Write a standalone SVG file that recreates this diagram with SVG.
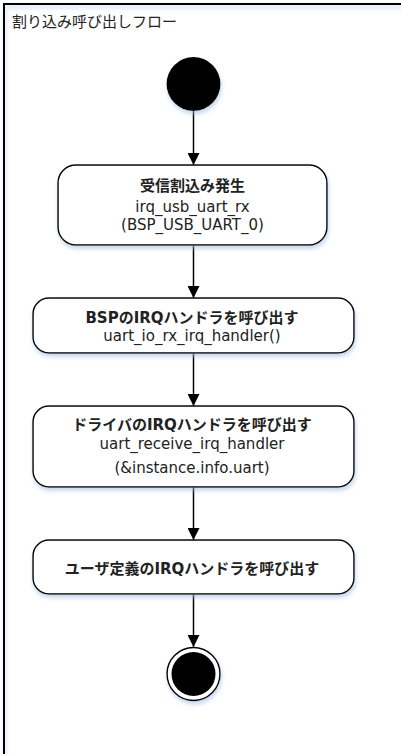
<svg xmlns="http://www.w3.org/2000/svg" width="401" height="754" viewBox="0 0 401 754">
<style>
.box{fill:#fff;stroke:#000;stroke-width:1.5}
.t{font-family:"DejaVu Sans","Noto Sans CJK JP",sans-serif;font-size:15px;fill:#222;text-anchor:middle}
.b{font-weight:bold}
.c{stroke:#000;stroke-width:1.5;fill:none;marker-end:url(#ah)}
</style>
<defs>
<filter id="sh" x="-20%" y="-20%" width="140%" height="150%">
<feDropShadow dx="1" dy="3" stdDeviation="2" flood-color="#9fbbdc" flood-opacity="0.6"/>
</filter>
<marker id="ah" viewBox="0 0 12 12" refX="12" refY="6" markerWidth="12" markerHeight="12" markerUnits="userSpaceOnUse" orient="auto">
<path d="M0,0 L12,6 L0,12 Z" fill="#000"/>
</marker>
</defs>
<rect width="401" height="754" fill="#fff"/>
<g id="frame">
<rect x="4" y="4" width="500" height="800" fill="none" stroke="#000" stroke-width="2" filter="url(#sh)"/>
<text x="12" y="27" font-family="'Noto Sans CJK JP',sans-serif" font-size="15" fill="#222">割り込み呼び出しフロー</text>
</g>
<g id="connectors">
<line class="c" x1="193.5" y1="111" x2="193.5" y2="165"/>
<line class="c" x1="193.5" y1="245" x2="193.5" y2="298"/>
<line class="c" x1="193.5" y1="353" x2="193.5" y2="406"/>
<line class="c" x1="193.5" y1="487" x2="193.5" y2="540"/>
<line class="c" x1="193.5" y1="594" x2="193.5" y2="647"/>
</g>
<g id="start">
<circle cx="193.5" cy="84" r="27" fill="#000" filter="url(#sh)"/>
</g>
<g id="n1">
<rect class="box" x="58" y="165" width="269" height="80" rx="18" filter="url(#sh)"/>
<text class="t b" x="192.5" y="191">受信割込み発生</text>
<text class="t" x="192.5" y="212">irq_usb_uart_rx</text>
<text class="t" x="192.5" y="230">(BSP_USB_UART_0)</text>
</g>
<g id="n2">
<rect class="box" x="33" y="298" width="321" height="55" rx="16" filter="url(#sh)"/>
<text class="t b" x="192" y="323">BSPのIRQハンドラを呼び出す</text>
<text class="t" x="192" y="341">uart_io_rx_irq_handler()</text>
</g>
<g id="n3">
<rect class="box" x="33" y="406" width="321" height="81" rx="16" filter="url(#sh)"/>
<text class="t b" x="192" y="430">ドライバのIRQハンドラを呼び出す</text>
<text class="t" x="192" y="449">uart_receive_irq_handler</text>
<text class="t" x="192" y="473">(&amp;instance.info.uart)</text>
</g>
<g id="n4">
<rect class="box" x="33" y="540" width="321" height="54" rx="16" filter="url(#sh)"/>
<text class="t b" x="192" y="574">ユーザ定義のIRQハンドラを呼び出す</text>
</g>
<g id="end">
<circle cx="193.5" cy="674" r="26.5" fill="#fff" stroke="#000" stroke-width="1.5" filter="url(#sh)"/>
<circle cx="193.5" cy="674" r="22" fill="#000"/>
</g>
</svg>
